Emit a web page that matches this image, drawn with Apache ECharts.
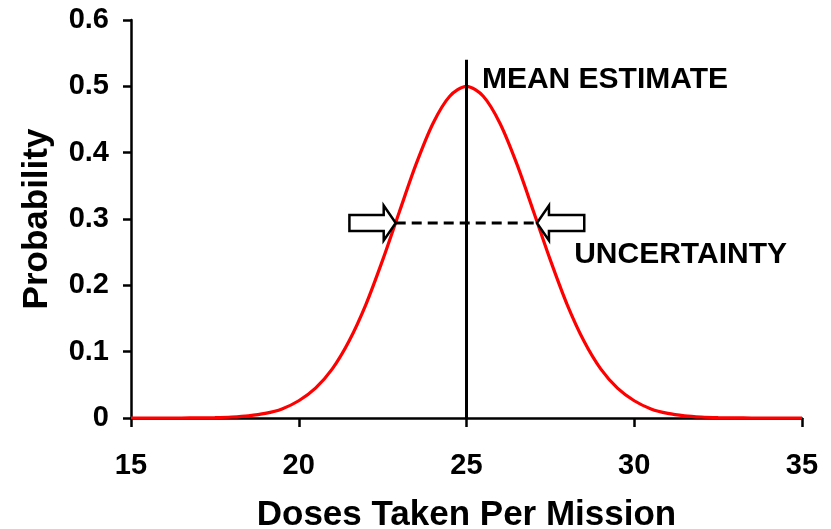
<!DOCTYPE html>
<html>
<head>
<meta charset="utf-8">
<script src="https://cdn.jsdelivr.net/npm/echarts@6/dist/echarts.min.js"></script>
<style>
html,body{margin:0;padding:0;background:#fff;overflow:hidden;}
#c{width:831px;height:529px;}
</style>
</head>
<body>
<div id="c"></div>
<script>
// Curve
const doses = [15,15.5,16,16.5,17,17.5,18,18.5,19,19.5,20,20.5,21,21.5,22,22.5,23,23.5,24,24.5,25,25.5,26,26.5,27,27.5,28,28.5,29,29.5,30,30.5,31,31.5,32,32.5,33,33.5,34,34.5,35];
const probs = [0,0,0,0,0.0002,0.0006,0.0015,0.0033,0.0069,0.0137,0.026,0.045,0.074,0.116,0.171,0.238,0.311,0.383,0.444,0.485,0.5,0.485,0.444,0.383,0.311,0.238,0.171,0.116,0.074,0.045,0.026,0.0137,0.0069,0.0033,0.0015,0.0006,0.0002,0,0,0,0];

const meanX = [25, 25];
const meanY = [0, 0.54];

const uncertaintyY = 0.294;
const uncertaintyX = [22.89, 27.1];
// arrows: [tip x, tail x, y]
const arrows = [[22.89, 21.51, 0.294], [27.1, 28.51, 0.294]];
// annotation labels: [x, y, text]
const labels = [[25.46, 0.51, 'MEAN ESTIMATE'], [28.21, 0.246, 'UNCERTAINTY']];

const xTicks = {min: 15, max: 35, interval: 5};
const yTicks = {min: 0, max: 0.6, interval: 0.1};

const FONT = "'Liberation Sans', Arial, sans-serif";

const chart = echarts.init(document.getElementById('c'), null, {renderer: 'canvas'});
chart.setOption({
  animation: false,
  grid: {left: 131, right: 29, top: 20, bottom: 111, containLabel: false, outerBoundsMode: 'none'},
  xAxis: {
    type: 'value', min: xTicks.min, max: xTicks.max, interval: xTicks.interval,
    name: 'Doses Taken Per Mission', nameLocation: 'middle', nameGap: 80,
    nameTextStyle: {fontFamily: FONT, fontWeight: 'bold', fontSize: 35, color: '#000'},
    axisLine: {lineStyle: {color: '#000', width: 2.5}},
    axisTick: {inside: false, length: 9, lineStyle: {color: '#000', width: 2.5}},
    axisLabel: {fontFamily: FONT, fontWeight: 'bold', fontSize: 29, color: '#000', margin: 33},
    splitLine: {show: false}
  },
  yAxis: {
    type: 'value', min: yTicks.min, max: yTicks.max, interval: yTicks.interval,
    name: 'Probability', nameLocation: 'middle', nameGap: 76,
    nameTextStyle: {fontFamily: FONT, fontWeight: 'bold', fontSize: 35, color: '#000'},
    axisLine: {show: true, lineStyle: {color: '#000', width: 2.5}},
    axisTick: {show: true, inside: false, length: 8, lineStyle: {color: '#000', width: 2.5}},
    axisLabel: {fontFamily: FONT, fontWeight: 'bold', fontSize: 29, color: '#000', margin: 22},
    splitLine: {show: false}
  },
  series: [
    {
      type: 'line', name: 'curve', showSymbol: false, smooth: 0.3,
      data: doses.map((x, i) => [x, probs[i]]),
      lineStyle: {color: '#ff0000', width: 3.2}, z: 3
    },
    {
      type: 'line', name: 'mean', showSymbol: false,
      data: meanX.map((x, i) => [x, meanY[i]]),
      lineStyle: {color: '#000', width: 3}, z: 4
    },
    {
      type: 'line', name: 'uncertainty', showSymbol: false,
      data: uncertaintyX.map(x => [x, uncertaintyY]),
      lineStyle: {color: '#000', width: 3, type: [10, 6]}, z: 4
    },
    {
      type: 'custom', name: 'arrows', z: 5,
      data: arrows,
      renderItem: function (params, api) {
        const tip = api.coord([api.value(0), api.value(2)]);
        const tail = api.coord([api.value(1), api.value(2)]);
        const dir = tail[0] > tip[0] ? 1 : -1;
        const headLen = 12, headH = 17.5, shaftH = 8;
        const bx = tip[0] + dir * headLen;
        const y = tip[1];
        const pts = [
          [tip[0], y], [bx, y - headH], [bx, y - shaftH], [tail[0], y - shaftH],
          [tail[0], y + shaftH], [bx, y + shaftH], [bx, y + headH]
        ];
        return {type: 'polygon', shape: {points: pts},
          style: {fill: '#fff', stroke: '#000', lineWidth: 2.5, lineJoin: 'miter'}};
      }
    },
    {
      type: 'custom', name: 'labels', z: 6,
      data: labels,
      renderItem: function (params, api) {
        const p = api.coord([api.value(0), api.value(1)]);
        return {type: 'text', x: p[0], y: p[1],
          style: {text: labels[params.dataIndex][2], fill: '#000', font: 'bold 30px ' + FONT,
            textAlign: 'left', textVerticalAlign: 'middle'}};
      }
    }
  ]
});
</script>
</body>
</html>
